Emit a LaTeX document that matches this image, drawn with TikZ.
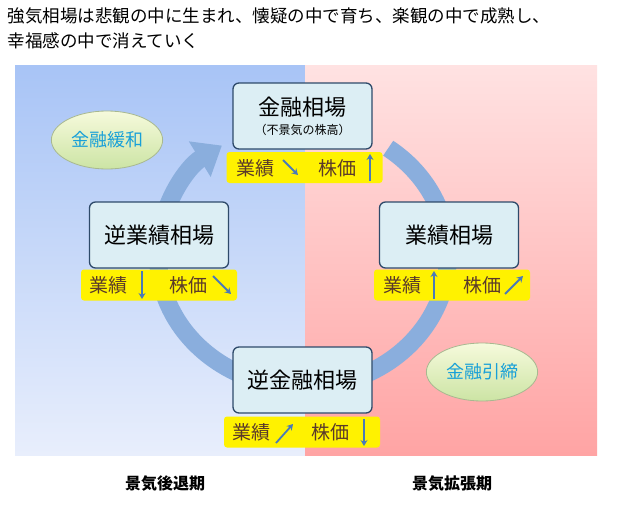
\documentclass[tikz,border=0pt]{standalone}
\usepackage{fontspec}
\setmainfont{Noto Sans CJK JP}
\usetikzlibrary{arrows.meta,shapes.geometric}
\definecolor{ring}{HTML}{8AAEDD}
\definecolor{bx}{HTML}{DCEEF4}
\definecolor{bxd}{HTML}{2E4A6A}
\definecolor{ytx}{HTML}{5A3A2A}
\definecolor{sk}{HTML}{18A0D8}
\definecolor{ar}{HTML}{4A7AB8}
\definecolor{bltop}{HTML}{A8C4F6}
\definecolor{blbot}{HTML}{E8EEFC}
\definecolor{pktop}{HTML}{FFE2E2}
\definecolor{pkbot}{HTML}{FFA4A4}
\definecolor{eltop}{HTML}{F6FADC}
\definecolor{elbot}{HTML}{CCE4A4}
\definecolor{eld}{HTML}{A8B890}
\tikzset{
 box/.style={draw=bxd,line width=1.3pt,rounded corners=6pt,fill=bx,minimum width=139pt,minimum height=66pt,font=\fontsize{22}{24}\selectfont},
 ybar/.style={fill=yellow,rounded corners=3pt,minimum width=156pt,minimum height=31pt},
 ylab/.style={text=ytx,font=\fontsize{19}{21}\selectfont},
 ell/.style={ellipse,draw=eld,line width=0.8pt,top color=eltop,bottom color=elbot,minimum width=100pt,minimum height=58pt,text=sk,font=\fontsize{18}{20}\selectfont},
 sar/.style={draw=ar,line width=1.8pt,-{Stealth[length=6pt,width=7pt]}},
}
\begin{document}
\begin{tikzpicture}[x=1pt,y=-1pt]
\useasboundingbox (0,0) rectangle (621,506);
\fill[white] (0,0) rectangle (621,506);
\shade[top color=bltop,bottom color=blbot] (15,65) rectangle (305,455);
\shade[top color=pktop,bottom color=pkbot] (305,65) rectangle (597,455);
\node[anchor=west,font=\fontsize{17.5}{19}\selectfont] (t1) at (4,16) {強気相場は悲観の中に生まれ、懐疑の中で育ち、楽観の中で成熟し、};
\node[anchor=west,font=\fontsize{17.5}{19}\selectfont] (t2) at (4,41) {幸福感の中で消えていく};
\draw[ring,line width=18pt,-{Triangle[length=26pt,width=40pt]}] (388.2,148.2) arc[start angle=-54,end angle=236,x radius=145,y radius=132];
\node[box,align=center] (b1) at (302.5,116) {金融相場\\[-5pt]{\fontsize{12}{14}\selectfont（不景気の株高）}};
\node[box] (b2) at (159,235) {逆業績相場};
\node[box] (b3) at (449,235) {業績相場};
\node[box] (b4) at (302.5,380) {逆金融相場};
\node[ybar] (y1) at (304.5,167.5) {};
\node[ybar] (y2) at (159,285) {};
\node[ybar] (y3) at (452,285) {};
\node[ybar] (y4) at (302,432) {};
\node[ylab] (y1a) at (255,168) {業績};
\draw[sar] (283,160) -- (298,175);
\node[ylab] (y1b) at (337,168) {株価};
\draw[sar] (370,181) -- (370,154);
\node[ylab] (y2a) at (108,285) {業績};
\draw[sar] (142,271) -- (142,299);
\node[ylab] (y2b) at (188,285) {株価};
\draw[sar] (213,276) -- (231,294);
\node[ylab] (y3a) at (402,285) {業績};
\draw[sar] (434,299) -- (434,271);
\node[ylab] (y3b) at (482,285) {株価};
\draw[sar] (505,294) -- (523,276);
\node[ylab] (y4a) at (251,432) {業績};
\draw[sar] (276,443) -- (293,424);
\node[ylab] (y4b) at (330,432) {株価};
\draw[sar] (364,419) -- (364,446);
\node[ell] (e1) at (107,140) {金融緩和};
\node[ell] (e2) at (482,372) {金融引締};
\node[font=\fontsize{16}{18}\selectfont\bfseries] (f1) at (165,484) {景気後退期};
\node[font=\fontsize{16}{18}\selectfont\bfseries] (f2) at (452,484) {景気拡張期};
\end{tikzpicture}
\end{document}
